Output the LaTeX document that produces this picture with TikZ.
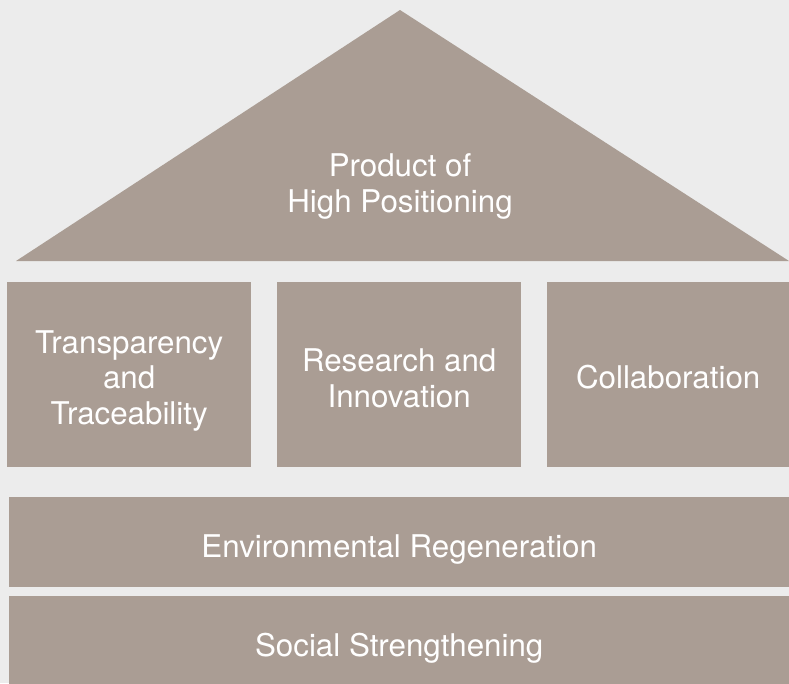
\documentclass[tikz,border=0pt]{standalone}
\usepackage{fontspec}
\setmainfont{TeX Gyre Heros}
\definecolor{bgc}{HTML}{ECECEC}
\definecolor{taupe}{HTML}{AA9D94}
\begin{document}
\begin{tikzpicture}[x=1pt,y=-1pt,
  block/.style={fill=taupe,draw=none,inner sep=0pt,anchor=north west},
  lbl/.style={text=white,font=\fontsize{31.3}{35.5}\selectfont,align=center,anchor=base,inner sep=0pt}]
\fill[bgc] (0,0) rectangle (789,683);
\useasboundingbox (0,0) rectangle (789,683);
% roof
\fill[taupe] (16,261) -- (400,10) -- (789,261) -- cycle;
\coordinate (roof) at (400,10);
\node[lbl] (troof) at (400,212) {Product of\\High Positioning};
% pillars
\node[block,minimum width=244pt,minimum height=185pt] (p1) at (7,282) {};
\node[block,minimum width=244pt,minimum height=185pt] (p2) at (277,282) {};
\node[block,minimum width=242pt,minimum height=185pt] (p3) at (547,282) {};
\node[lbl] (t1) at (p1.center |- 0,424) {Transparency\\and\\Traceability};
\node[lbl] (t2) at (p2.center |- 0,407) {Research and\\Innovation};
\node[lbl] (t3) at (p3.center |- 0,388) {Collaboration};
% foundations
\node[block,minimum width=780pt,minimum height=90pt] (env) at (9,497) {};
\node[block,minimum width=780pt,minimum height=95pt] (soc) at (9,596) {};
\node[lbl] (tenv) at (env.center |- 0,557) {Environmental Regeneration};
\node[lbl] (tsoc) at (soc.center |- 0,656) {Social Strengthening};
\end{tikzpicture}
\end{document}
